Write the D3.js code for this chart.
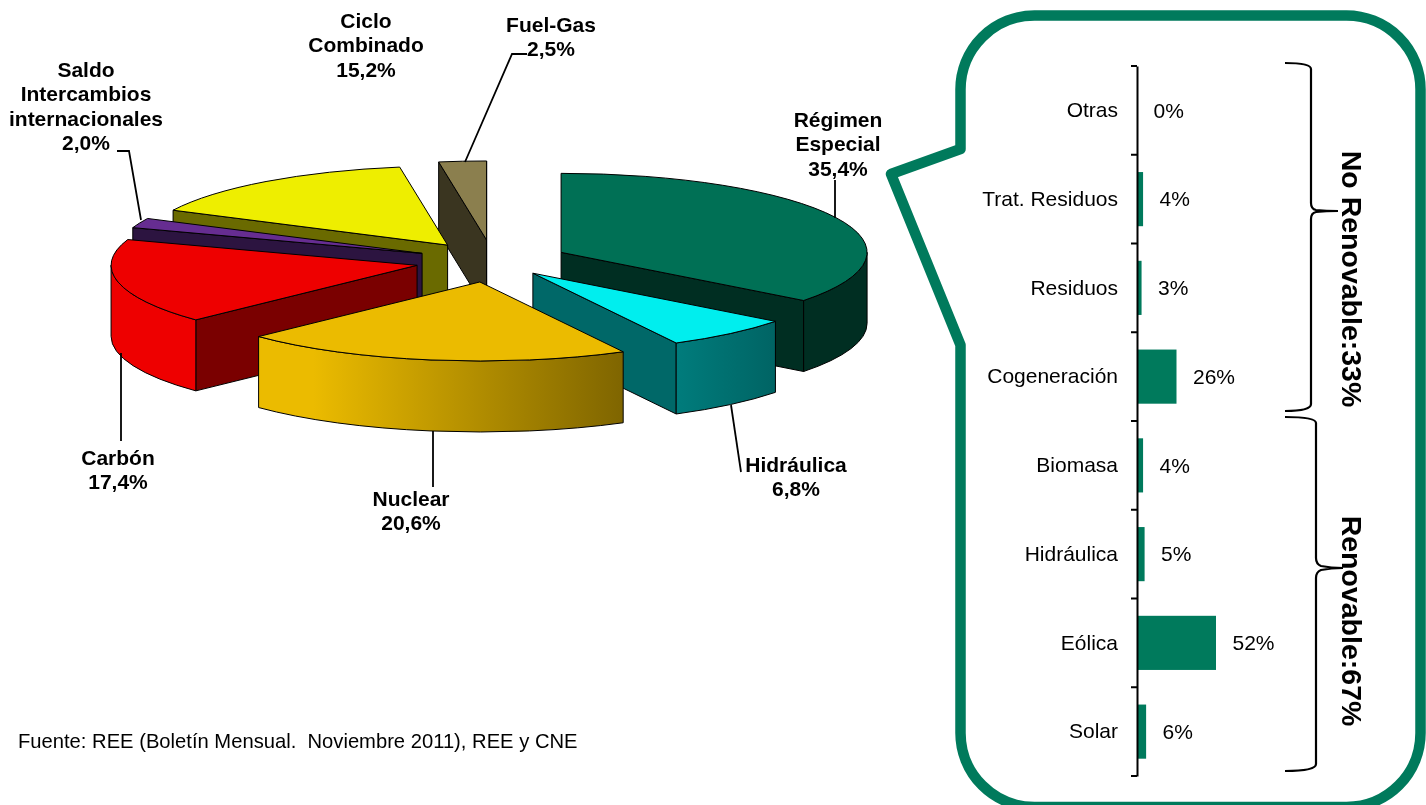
<!DOCTYPE html>
<head>
  <meta charset="utf-8">
  <script src="https://d3js.org/d3.v7.min.js"></script>
  <style>
    body { margin:0;position:fixed;top:0;right:0;bottom:0;left:0;background:#fff; }
    text { font-family:"Liberation Sans",Arial,sans-serif;fill:#000; }
    .pielabel { font-size:21px;font-weight:bold;text-anchor:middle; }
    .barlabel { font-size:21px; }
    .leader,.brace { fill:none;stroke:#000; }
    .leader { stroke-width:1.8px; }
    .brace { stroke-width:2.2px; }
    .slice path { stroke:#000;stroke-width:1px;stroke-linejoin:round; }
  </style>
</head>

<body>
<script>
  // pie data (mix de generacion)
  var pieNames = ["Régimen Especial", "Hidráulica", "Nuclear", "Carbón", "Saldo Intercambios internacionales", "Ciclo Combinado", "Fuel-Gas"];
  var pieValues = [35.4, 6.8, 20.6, 17.4, 2.0, 15.2, 2.5];
  var pieTexts = ["35,4%", "6,8%", "20,6%", "17,4%", "2,0%", "15,2%", "2,5%"];

  // bar data (desglose regimen especial)
  var barNames = ["Otras", "Trat. Residuos", "Residuos", "Cogeneración", "Biomasa", "Hidráulica", "Eólica", "Solar"];
  var barValues = [0, 4, 3, 26, 4, 5, 52, 6];

  var sourceText = "Fuente: REE (Boletín Mensual.  Noviembre 2011), REE y CNE";
  var groupNames = ["No Renovable:33%", "Renovable:67%"];

  // how the pie looks, same order as pieNames
  var topColors = ["#007055", "#00eeee", "#ebbb00", "#ee0000", "#662d91", "#eeee00", "#8b7f4e"];
  var wallColors = ["#002e22", "#006868", "#7a0000", "#7a0000", "#2c1440", "#6a6a00", "#3a3520"];
  var outerStops = [["#002e22", "#002e22"], ["#007c7c", "#006464"], ["#ebbb00", "#7f6500"], ["#ee0000", "#ee0000"], ["#2c1440", "#2c1440"], ["#6a6a00", "#6a6a00"], ["#3a3520", "#3a3520"]];
  var pull = [0.248, 0.202, 0.269, 0.254, 0.251, 0.25, 0.267];

  var cx = 493, cy = 261, rx = 306, ry = 79, depth = 71;

  var svg = d3.select("body").append("svg")
    .attr("width", 1426)
    .attr("height", 805);

  var defs = svg.append("defs");

  var pie = d3.pie().sort(null).value(function(d) { return d; });
  var slices = pie(pieValues).map(function(d, i) {
    var mid = (d.startAngle + d.endAngle) / 2;
    d.i = i;
    d.ox = cx + pull[i] * rx * Math.sin(mid);
    d.oy = cy - pull[i] * ry * Math.cos(mid);
    return d;
  });

  function rimX(d, a) { return d.ox + rx * Math.sin(a); }
  function rimY(d, a) { return d.oy - ry * Math.cos(a); }

  function arcTo(d, a0, a1, dy) {
    var big = Math.abs(a1 - a0) > Math.PI ? 1 : 0;
    var sweep = a1 > a0 ? 1 : 0;
    return "A" + rx + "," + ry + " 0 " + big + " " + sweep + " " + rimX(d, a1) + "," + (rimY(d, a1) + dy);
  }

  function topPath(d) {
    return "M" + d.ox + "," + d.oy +
      "L" + rimX(d, d.startAngle) + "," + rimY(d, d.startAngle) +
      arcTo(d, d.startAngle, d.endAngle, 0) + "Z";
  }

  function wallPath(d, a) {
    return "M" + d.ox + "," + d.oy +
      "L" + rimX(d, a) + "," + rimY(d, a) +
      "L" + rimX(d, a) + "," + (rimY(d, a) + depth) +
      "L" + d.ox + "," + (d.oy + depth) + "Z";
  }

  function outerPath(d, a0, a1) {
    return "M" + rimX(d, a0) + "," + rimY(d, a0) +
      arcTo(d, a0, a1, 0) +
      "L" + rimX(d, a1) + "," + (rimY(d, a1) + depth) +
      arcTo(d, a1, a0, depth) + "Z";
  }

  // back slices first
  var ordered = slices.slice().sort(function(a, b) { return a.oy - b.oy; });

  var sliceG = svg.selectAll("g.slice")
    .data(ordered)
    .enter().append("g")
    .attr("class", "slice");

  sliceG.each(function(d) {
    var g = d3.select(this);

    // radial walls that face the viewer
    if (Math.sin(d.startAngle) < 0) {
      g.append("path").attr("d", wallPath(d, d.startAngle)).attr("fill", wallColors[d.i]);
    }
    if (Math.sin(d.endAngle) > 0) {
      g.append("path").attr("d", wallPath(d, d.endAngle)).attr("fill", wallColors[d.i]);
    }

    // rim, only the front half of the ellipse shows
    var a0 = Math.max(d.startAngle, Math.PI / 2);
    var a1 = Math.min(d.endAngle, Math.PI * 1.5);
    if (a1 > a0) {
      var grad = defs.append("linearGradient").attr("id", "rim" + d.i);
      grad.append("stop").attr("offset", d.i == 2 ? "0.15" : "0").attr("stop-color", outerStops[d.i][0]);
      grad.append("stop").attr("offset", "1").attr("stop-color", outerStops[d.i][1]);
      g.append("path").attr("d", outerPath(d, a0, a1)).attr("fill", "url(#rim" + d.i + ")");
    }

    g.append("path").attr("d", topPath(d)).attr("fill", topColors[d.i]);
  });

  // leader lines
  var leaders = [
    [[835, 180], [835, 218]],
    [[731, 405], [741, 472]],
    [[433, 431], [433, 487]],
    [[121, 353], [121, 441]],
    [[117, 151], [129, 151], [141, 220]],
    [[527, 54], [512, 54], [465, 162]]
  ];
  svg.selectAll("path.leader")
    .data(leaders)
    .enter().append("path")
    .attr("class", "leader")
    .attr("d", d3.line());

  // pie labels: lines of the name, then the percentage
  var labelLines = [
    ["Régimen", "Especial"],
    ["Hidráulica"],
    ["Nuclear"],
    ["Carbón"],
    ["Saldo", "Intercambios", "internacionales"],
    ["Ciclo", "Combinado"],
    ["Fuel-Gas"]
  ];
  var labelAt = [[838, 127], [796, 472], [411, 506], [118, 465], [86, 77], [366, 28], [551, 32]];

  svg.selectAll("text.pielabel")
    .data(slices)
    .enter().append("text")
    .attr("class", "pielabel")
    .attr("transform", function(d) { return "translate(" + labelAt[d.i] + ")"; })
    .selectAll("tspan")
    .data(function(d) { return labelLines[d.i].concat(pieTexts[d.i]); })
    .enter().append("tspan")
    .attr("x", 0)
    .attr("y", function(d, i) { return i * 24.4; })
    .text(function(d) { return d; });

  svg.append("text")
    .attr("x", 18)
    .attr("y", 748)
    .style("font-size", "20.2px")
    .style("white-space", "pre")
    .text(sourceText);

  // callout box, runs off the bottom of the picture a little
  var co = {l: 960.5, r: 1420.5, t: 15.5, b: 807, rad: 74, tipX: 891, tipY: 174, up: 149, down: 345};
  svg.append("path")
    .attr("fill", "none")
    .attr("stroke", "#007a5c")
    .attr("stroke-width", 10.5)
    .attr("stroke-linejoin", "round")
    .attr("d", "M" + co.l + "," + (co.t + co.rad) +
      "A" + co.rad + "," + co.rad + " 0 0 1 " + (co.l + co.rad) + "," + co.t +
      "L" + (co.r - co.rad) + "," + co.t +
      "A" + co.rad + "," + co.rad + " 0 0 1 " + co.r + "," + (co.t + co.rad) +
      "L" + co.r + "," + (co.b - co.rad) +
      "A" + co.rad + "," + co.rad + " 0 0 1 " + (co.r - co.rad) + "," + co.b +
      "L" + (co.l + co.rad) + "," + co.b +
      "A" + co.rad + "," + co.rad + " 0 0 1 " + co.l + "," + (co.b - co.rad) +
      "L" + co.l + "," + co.down +
      "L" + co.tipX + "," + co.tipY +
      "L" + co.l + "," + co.up + "Z");

  // bar chart
  var x = d3.scaleLinear().domain([0, 52]).range([1137, 1216]);
  var y = d3.scaleBand().domain(barNames).range([66, 776]).paddingInner(0.39).paddingOuter(0.195);

  svg.selectAll("rect.bar")
    .data(barValues)
    .enter().append("rect")
    .attr("class", "bar")
    .attr("x", x(0))
    .attr("y", function(d, i) { return y(barNames[i]); })
    .attr("width", function(d) { return x(d) - x(0); })
    .attr("height", y.bandwidth())
    .attr("fill", "#007a5c");

  var axis = svg.append("g")
    .attr("class", "barlabel")
    .attr("transform", "translate(" + x(0) + ",0)")
    .call(d3.axisLeft(y).tickSize(0).tickPadding(19));
  axis.selectAll("text").style("font-size", "21px").style("font-family", "'Liberation Sans',Arial,sans-serif");
  axis.select(".domain").attr("stroke", "#000").attr("stroke-width", 2);

  // ticks sit between the categories
  axis.selectAll("line.sep")
    .data(d3.range(barNames.length + 1))
    .enter().append("line")
    .attr("class", "sep")
    .attr("x1", -6)
    .attr("x2", 0)
    .attr("y1", function(d) { return 66 + d * y.step(); })
    .attr("y2", function(d) { return 66 + d * y.step(); })
    .attr("stroke", "#000")
    .attr("stroke-width", 2);

  svg.selectAll("text.barvalue")
    .data(barValues)
    .enter().append("text")
    .attr("class", "barlabel barvalue")
    .attr("x", function(d) { return x(d) + 16.5; })
    .attr("y", function(d, i) { return y(barNames[i]) + y.bandwidth() / 2; })
    .attr("dy", "0.35em")
    .text(function(d) { return d + "%"; });

  // braces
  var braces = [
    "M1285,63Q1311,63 1311,69L1311,203Q1311,209 1316,210Q1326,211 1338,211Q1326,211 1316,212Q1311,213 1311,219L1311,404Q1311,411 1285,411",
    "M1285,417Q1316,417 1316,423L1316,558Q1316,564 1321,566Q1331,568 1343,568Q1331,568 1321,570Q1316,572 1316,578L1316,764Q1316,771 1285,771"
  ];
  svg.selectAll("path.brace")
    .data(braces)
    .enter().append("path")
    .attr("class", "brace")
    .attr("d", function(d) { return d; });

  var groupAt = [[1342, 279], [1342, 621]];
  svg.selectAll("text.group")
    .data(groupNames)
    .enter().append("text")
    .attr("class", "group")
    .attr("transform", function(d, i) { return "translate(" + groupAt[i] + ") rotate(90)"; })
    .attr("text-anchor", "middle")
    .style("font-size", "28.5px")
    .style("font-weight", "bold")
    .text(function(d) { return d; });
</script>
</body>
